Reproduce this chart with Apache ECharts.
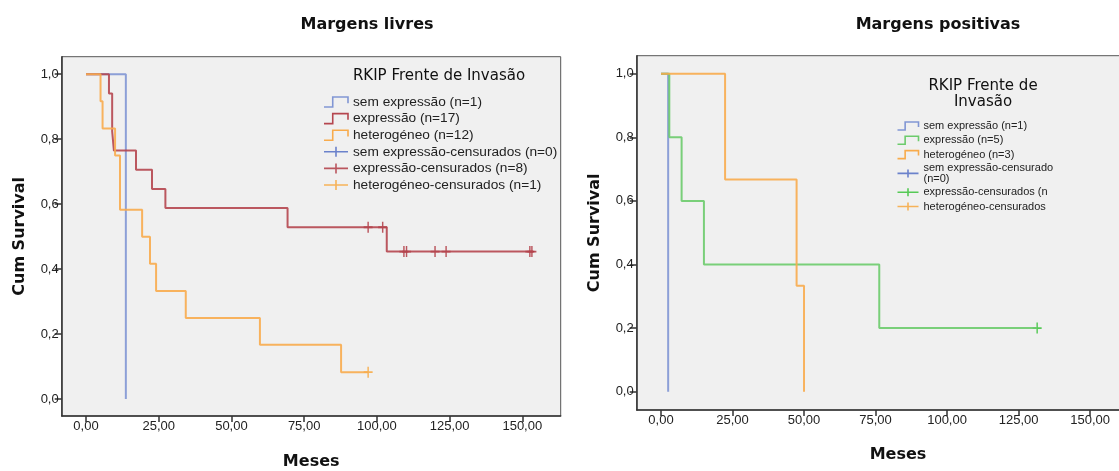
<!DOCTYPE html>
<html><head><meta charset="utf-8">
<script src="https://cdn.jsdelivr.net/npm/echarts@6/dist/echarts.min.js"></script>
<style>html,body{margin:0;padding:0;background:#fff}#c{width:1119px;height:471px}</style>
</head><body><div id="c"></div>
<script>
// ---- tick values ----
const xTicks = [0, 25, 50, 75, 100, 125, 150];
const yTicks = [0, 0.2, 0.4, 0.6, 0.8, 1.0];

// ---- Left panel: Margens livres ----
const leftSemT = [0, 13.7];
const leftSemS = [1, 0];
const leftExpT = [0, 7.9, 9.0, 9.6, 17.2, 22.7, 27.3, 69.3, 103.4, 153.7];
const leftExpS = [1, 0.941, 0.824, 0.765, 0.706, 0.647, 0.588, 0.529, 0.454, 0.454];
const leftHetT = [0, 5.0, 5.7, 10.0, 11.7, 19.3, 22.0, 24.1, 34.3, 59.8, 87.7, 97.0];
const leftHetS = [1, 0.917, 0.833, 0.75, 0.583, 0.5, 0.417, 0.333, 0.25, 0.167, 0.083, 0.083];
const leftExpCensT = [97.0, 102.0, 109.3, 110.2, 120.0, 123.8, 152.6, 153.3];
const leftExpCensS = [0.529, 0.529, 0.454, 0.454, 0.454, 0.454, 0.454, 0.454];
const leftHetCensT = [97.0];
const leftHetCensS = [0.083];

// ---- Right panel: Margens positivas ----
const rightSemT = [0, 2.5];
const rightSemS = [1, 0];
const rightExpT = [0, 2.9, 7.2, 15.0, 76.3, 131.5];
const rightExpS = [1, 0.8, 0.6, 0.4, 0.2, 0.2];
const rightHetT = [0, 22.4, 47.4, 50.0];
const rightHetS = [1, 0.667, 0.333, 0];
const rightExpCensT = [131.5];
const rightExpCensS = [0.2];

// ---- legend names ----
const leftNames = ['sem expressão (n=1)', 'expressão (n=17)', 'heterogéneo (n=12)',
  'sem expressão-censurados (n=0)', 'expressão-censurados (n=8)', 'heterogéneo-censurados (n=1)'];
const rightNames = ['sem expressão (n=1)', 'expressão (n=5)', 'heterogéneo (n=3)',
  'sem expressão-censurado\n(n=0)', 'expressão-censurados (n=1)', 'heterogéneo-censurados (n=0)'];

const C = {
  blue: '#8196d4', red: '#b5464f', orange: '#f8ab4c', green: '#6ccb6c',
  blueX: '#4a66c2', redX: '#ad2f3a', orangeX: '#f7a233', greenX: '#2fbf2f'
};
const FONT = '"DejaVu Sans", "Liberation Sans", Arial, sans-serif';
const AFONT = '"Liberation Sans", Arial, sans-serif';
const zip = (t, s) => t.map((v, i) => [v, s[i]]);
const stepIcon = 'path://M0,9L8,9L8,1L22,1L22,6';
const crossIcon = 'path://M0,5L24,5M12,0L12,10';
const censSym = 'path://M0,5L10,5M5,0L5,10';

function lineSeries(name, gi, t, s, color) {
  return { type: 'line', name, xAxisIndex: gi, yAxisIndex: gi, data: zip(t, s), step: 'end',
    symbol: 'none', silent: true, lineStyle: { color, width: 2, opacity: 0.9 }, itemStyle: { color } };
}
function censSeries(name, gi, t, s, color) {
  return { type: 'scatter', name, xAxisIndex: gi, yAxisIndex: gi, data: zip(t, s), silent: true,
    symbol: censSym, symbolSize: [9, 11],
    itemStyle: { color: 'none', borderColor: color, borderWidth: 1.6 } };
}
function legendItems(names, colors, crossColors) {
  return names.map((n, i) => i < 3
    ? { name: n, icon: stepIcon, itemStyle: { color: 'none', borderColor: colors[i], borderWidth: 1.6 } }
    : { name: n, icon: crossIcon, itemStyle: { color: 'none', borderColor: crossColors[i - 3], borderWidth: 1.6 } });
}
function xAxis(gi, min, max, gap) {
  return { type: 'value', gridIndex: gi, min, max,
    axisLine: { show: true, onZero: false, lineStyle: { color: '#333', width: 1.5 } },
    axisTick: { show: true, customValues: xTicks, length: 6, lineStyle: { color: '#333', width: 1.5 } },
    axisLabel: { customValues: xTicks, margin: 4, fontSize: 13, color: '#222', fontFamily: AFONT,
      formatter: v => v.toFixed(2).replace('.', ',') },
    splitLine: { show: false },
    name: 'Meses', nameLocation: 'middle', nameGap: gap,
    nameTextStyle: { fontSize: 16, fontWeight: 'bold', color: '#111', fontFamily: FONT } };
}
function yAxis(gi, min, max, gap) {
  return { type: 'value', gridIndex: gi, min, max,
    axisLine: { show: true, onZero: false, lineStyle: { color: '#333', width: 1.5 } },
    axisTick: { show: true, customValues: yTicks, length: 7, lineStyle: { color: '#333', width: 1.5 } },
    axisLabel: { customValues: yTicks, margin: 3, fontSize: 13, color: '#222', fontFamily: AFONT,
      formatter: v => v.toFixed(1).replace('.', ',') },
    splitLine: { show: false },
    name: 'Cum Survival', nameLocation: 'middle', nameGap: gap,
    nameTextStyle: { fontSize: 16, fontWeight: 'bold', color: '#111', fontFamily: FONT } };
}
function txt(x, y, text, font) {
  return { type: 'text', x, y, silent: true,
    style: { text, font, fill: '#111', align: 'center', verticalAlign: 'middle',
      textAlign: 'center', textVerticalAlign: 'middle' } };
}

const chart = echarts.init(document.getElementById('c'), null, { renderer: 'canvas' });
chart.setOption({
  animation: false,
  backgroundColor: '#ffffff',
  grid: [
    { left: 61.7, top: 56.7, width: 499, height: 359.3, show: true, backgroundColor: '#f0f0f0',
      borderColor: '#555', borderWidth: 1, outerBoundsMode: 'none', containLabel: false },
    { left: 636.7, top: 55.7, width: 522.6, height: 354.3, show: true, backgroundColor: '#f0f0f0',
      borderColor: '#555', borderWidth: 1, outerBoundsMode: 'none', containLabel: false }
  ],
  xAxis: [xAxis(0, -8.35, 163.2, 38), xAxis(1, -8.5, 174.2, 37)],
  yAxis: [yAxis(0, -0.052, 1.054, 34), yAxis(1, -0.0575, 1.0566, 34)],
  legend: [
    { data: legendItems(leftNames, [C.blue, C.red, C.orange], [C.blueX, C.redX, C.orangeX]),
      orient: 'vertical', left: 321.5, top: 94, itemWidth: 24, itemHeight: 10, itemGap: 0.6,
      symbolKeepAspect: false, selectedMode: false, padding: 0,
      textStyle: { fontSize: 13.7, lineHeight: 16, color: '#222', fontFamily: AFONT } },
    { data: legendItems(rightNames, [C.blue, C.green, C.orange], [C.blueX, C.greenX, C.orangeX]),
      orient: 'vertical', left: 895, top: 119.5, itemWidth: 21, itemHeight: 8, itemGap: 1.3,
      symbolKeepAspect: false, selectedMode: false, padding: 0,
      textStyle: { fontSize: 11, lineHeight: 11, color: '#222', fontFamily: AFONT,
        width: 131, overflow: 'truncate', ellipsis: '' } }
  ],
  graphic: [
    txt(367, 25, 'Margens livres', 'bold 16px ' + FONT),
    txt(938, 25, 'Margens positivas', 'bold 16px ' + FONT),
    txt(439, 75.7, 'RKIP Frente de Invasão', '15px ' + FONT),
    txt(983, 85.7, 'RKIP Frente de', '15px ' + FONT),
    txt(983, 101.7, 'Invasão', '15px ' + FONT)
  ],
  series: [
    lineSeries(leftNames[0], 0, leftSemT, leftSemS, C.blue),
    lineSeries(leftNames[1], 0, leftExpT, leftExpS, C.red),
    lineSeries(leftNames[2], 0, leftHetT, leftHetS, C.orange),
    censSeries(leftNames[3], 0, [], [], C.blueX),
    censSeries(leftNames[4], 0, leftExpCensT, leftExpCensS, C.redX),
    censSeries(leftNames[5], 0, leftHetCensT, leftHetCensS, C.orangeX),
    lineSeries(rightNames[0], 1, rightSemT, rightSemS, C.blue),
    lineSeries(rightNames[1], 1, rightExpT, rightExpS, C.green),
    lineSeries(rightNames[2], 1, rightHetT, rightHetS, C.orange),
    censSeries(rightNames[3], 1, [], [], C.blueX),
    censSeries(rightNames[4], 1, rightExpCensT, rightExpCensS, C.greenX),
    censSeries(rightNames[5], 1, [], [], C.orangeX)
  ]
});
</script></body></html>
